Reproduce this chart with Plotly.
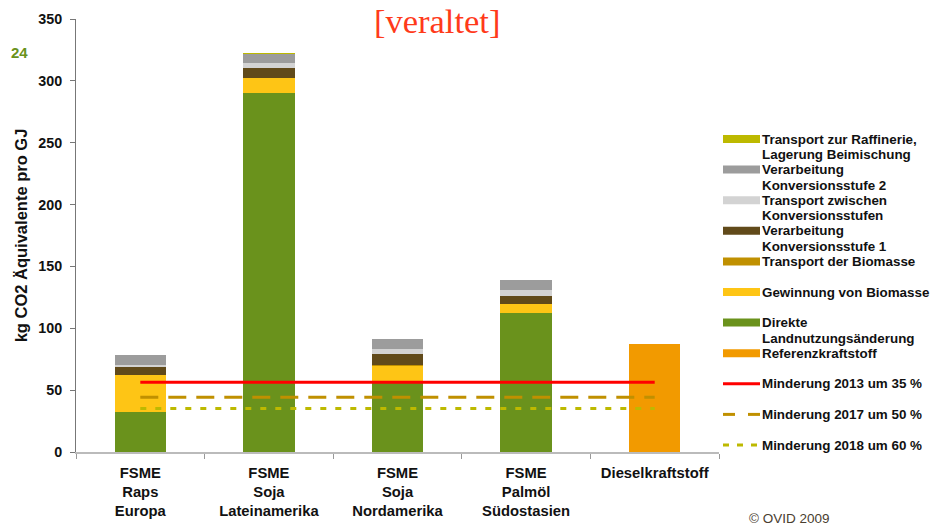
import plotly.graph_objects as go

categories = ["<b>FSME</b><br><b>Raps</b><br><b>Europa</b>",
              "<b>FSME</b><br><b>Soja</b><br><b>Lateinamerika</b>",
              "<b>FSME</b><br><b>Soja</b><br><b>Nordamerika</b>",
              "<b>FSME</b><br><b>Palmöl</b><br><b>Südostasien</b>",
              "<b>Dieselkraftstoff</b>"]

# stacked components, bottom to top
luc = [32.5, 290, 56.3, 112.4, 0]
gewinnung = [29.5, 12, 13.5, 7.2, 0]
transport_biomasse = [0, 0, 0.5, 0, 0]
verarbeitung1 = [7.5, 8.3, 8.9, 6.5, 0]
transport_zwischen = [0.8, 4, 4, 5, 0]
verarbeitung2 = [8.1, 7.5, 8, 8, 0]
transport_raffinerie = [0, 0.6, 0, 0, 0]
referenz = [0, 0, 0, 0, 87.3]

minderung_2013 = 56.3
minderung_2017 = 44.2
minderung_2018 = 35.2

series = [
    ("Direkte|Landnutzungsänderung", luc, "#6A921C"),
    ("Gewinnung von Biomasse", gewinnung, "#FEC515"),
    ("Transport der Biomasse", transport_biomasse, "#C09000"),
    ("Verarbeitung|Konversionsstufe 1", verarbeitung1, "#614A1A"),
    ("Transport zwischen|Konversionsstufen", transport_zwischen, "#D3D3D3"),
    ("Verarbeitung|Konversionsstufe 2", verarbeitung2, "#9C9C9C"),
    ("Transport zur Raffinerie,|Lagerung Beimischung", transport_raffinerie, "#BDB900"),
    ("Referenzkraftstoff", referenz, "#F29A00"),
]
lines = [
    ("Minderung 2013 um 35 %", minderung_2013, "#FF0000", "solid"),
    ("Minderung 2017 um 50 %", minderung_2017, "#C09000", "18px,10px"),
    ("Minderung 2018 um 60 %", minderung_2018, "#BDB900", "6px,9px"),
]

fig = go.Figure()
for name, vals, col in series:
    fig.add_trace(go.Bar(x=categories, y=vals, name=name.replace("|", " "), marker_color=col,
                         marker_line_width=0, showlegend=False))
for name, val, col, dash in lines:
    fig.add_trace(go.Scatter(x=categories, y=[val] * len(categories), mode="lines",
                             name=name, line=dict(color=col, width=3, dash=dash),
                             showlegend=False))

L, R, T, B = 76, 213, 19, 73
W, H = 932, 525
pw, ph = W - L - R, H - T - B

def px(x):
    return (x - L) / pw

def py(y):
    return (H - B - y) / ph

font = "Liberation Sans, Arial, sans-serif"
fig.update_layout(
    width=W, height=H,
    margin=dict(l=L, r=R, t=T, b=B, autoexpand=False),
    barmode="stack", bargap=0.6,
    plot_bgcolor="white", paper_bgcolor="white",
    font=dict(family=font, color="#111111", size=12),
    xaxis=dict(showline=True, linecolor="#BBBBBB", linewidth=2,
               ticks="outside", tickson="boundaries", ticklen=5, tickcolor="#999999",
               ticklabelstandoff=6,
               tickfont=dict(size=14.8, weight="bold"), showgrid=False),
    yaxis=dict(range=[0, 350], dtick=50, showline=True, linecolor="#777777", linewidth=1,
               ticks="outside", ticklen=5, tickcolor="#777777", showgrid=False, zeroline=False,
               ticklabelstandoff=5,
               tickfont=dict(size=14.3, weight="bold"),
               title=dict(text="kg CO2 Äquivalente pro GJ", font=dict(size=16.5, weight="bold"), standoff=6)),
    showlegend=False,
)

# custom legend (swatch rows evenly spaced, multi-line text overflows)
legend_items = [
    (series[6][0], series[6][2], "box"),
    (series[5][0], series[5][2], "box"),
    (series[4][0], series[4][2], "box"),
    (series[3][0], series[3][2], "box"),
    (series[2][0], series[2][2], "box"),
    (series[1][0], series[1][2], "box"),
    (series[0][0], series[0][2], "box"),
    (series[7][0], series[7][2], "box"),
    (lines[0][0], lines[0][2], "solid"),
    (lines[1][0], lines[1][2], "dash1"),
    (lines[2][0], lines[2][2], "dash2"),
]
y0 = 139
step = 30.6
line_h = 15.4
for i, (name, col, kind) in enumerate(legend_items):
    yc = y0 + i * step
    if kind == "box":
        fig.add_shape(type="rect", xref="paper", yref="paper",
                      x0=px(723), x1=px(760), y0=py(yc - 4), y1=py(yc + 4),
                      fillcolor=col, line_width=0)
    elif kind == "solid":
        fig.add_shape(type="line", xref="paper", yref="paper",
                      x0=px(723), x1=px(760), y0=py(yc), y1=py(yc),
                      line=dict(color=col, width=3))
    elif kind == "dash1":
        for a, b in [(723, 735), (748, 760)]:
            fig.add_shape(type="line", xref="paper", yref="paper",
                          x0=px(a), x1=px(b), y0=py(yc), y1=py(yc),
                          line=dict(color=col, width=3))
    else:
        for a, b in [(723, 729), (737, 743), (751, 757)]:
            fig.add_shape(type="line", xref="paper", yref="paper",
                          x0=px(a), x1=px(b), y0=py(yc), y1=py(yc),
                          line=dict(color=col, width=3))
    for j, part in enumerate(name.split("|")):
        fig.add_annotation(text="<b>" + part + "</b>",
                           xref="paper", yref="paper", x=px(760), y=py(yc + j * line_h),
                           xanchor="left", yanchor="middle", align="left", showarrow=False,
                           font=dict(size=13.4, family=font, color="#111111"))

fig.add_annotation(text="[veraltet]", xref="paper", yref="paper", x=px(437), y=py(21),
                   xanchor="center", yanchor="middle", showarrow=False,
                   font=dict(family="Liberation Serif, Times New Roman, serif", size=34.5, color="#FF3A1A"))
fig.add_annotation(text="<b>24</b>", xref="paper", yref="paper", x=px(19.5), y=py(52),
                   xanchor="center", yanchor="middle", showarrow=False,
                   font=dict(size=15, color="#6A921C"))
fig.add_annotation(text="© OVID 2009", xref="paper", yref="paper", x=px(789), y=py(518),
                   xanchor="center", yanchor="middle", showarrow=False,
                   font=dict(size=13.5, color="#4A3E30"))

fig.write_html("out.html")
